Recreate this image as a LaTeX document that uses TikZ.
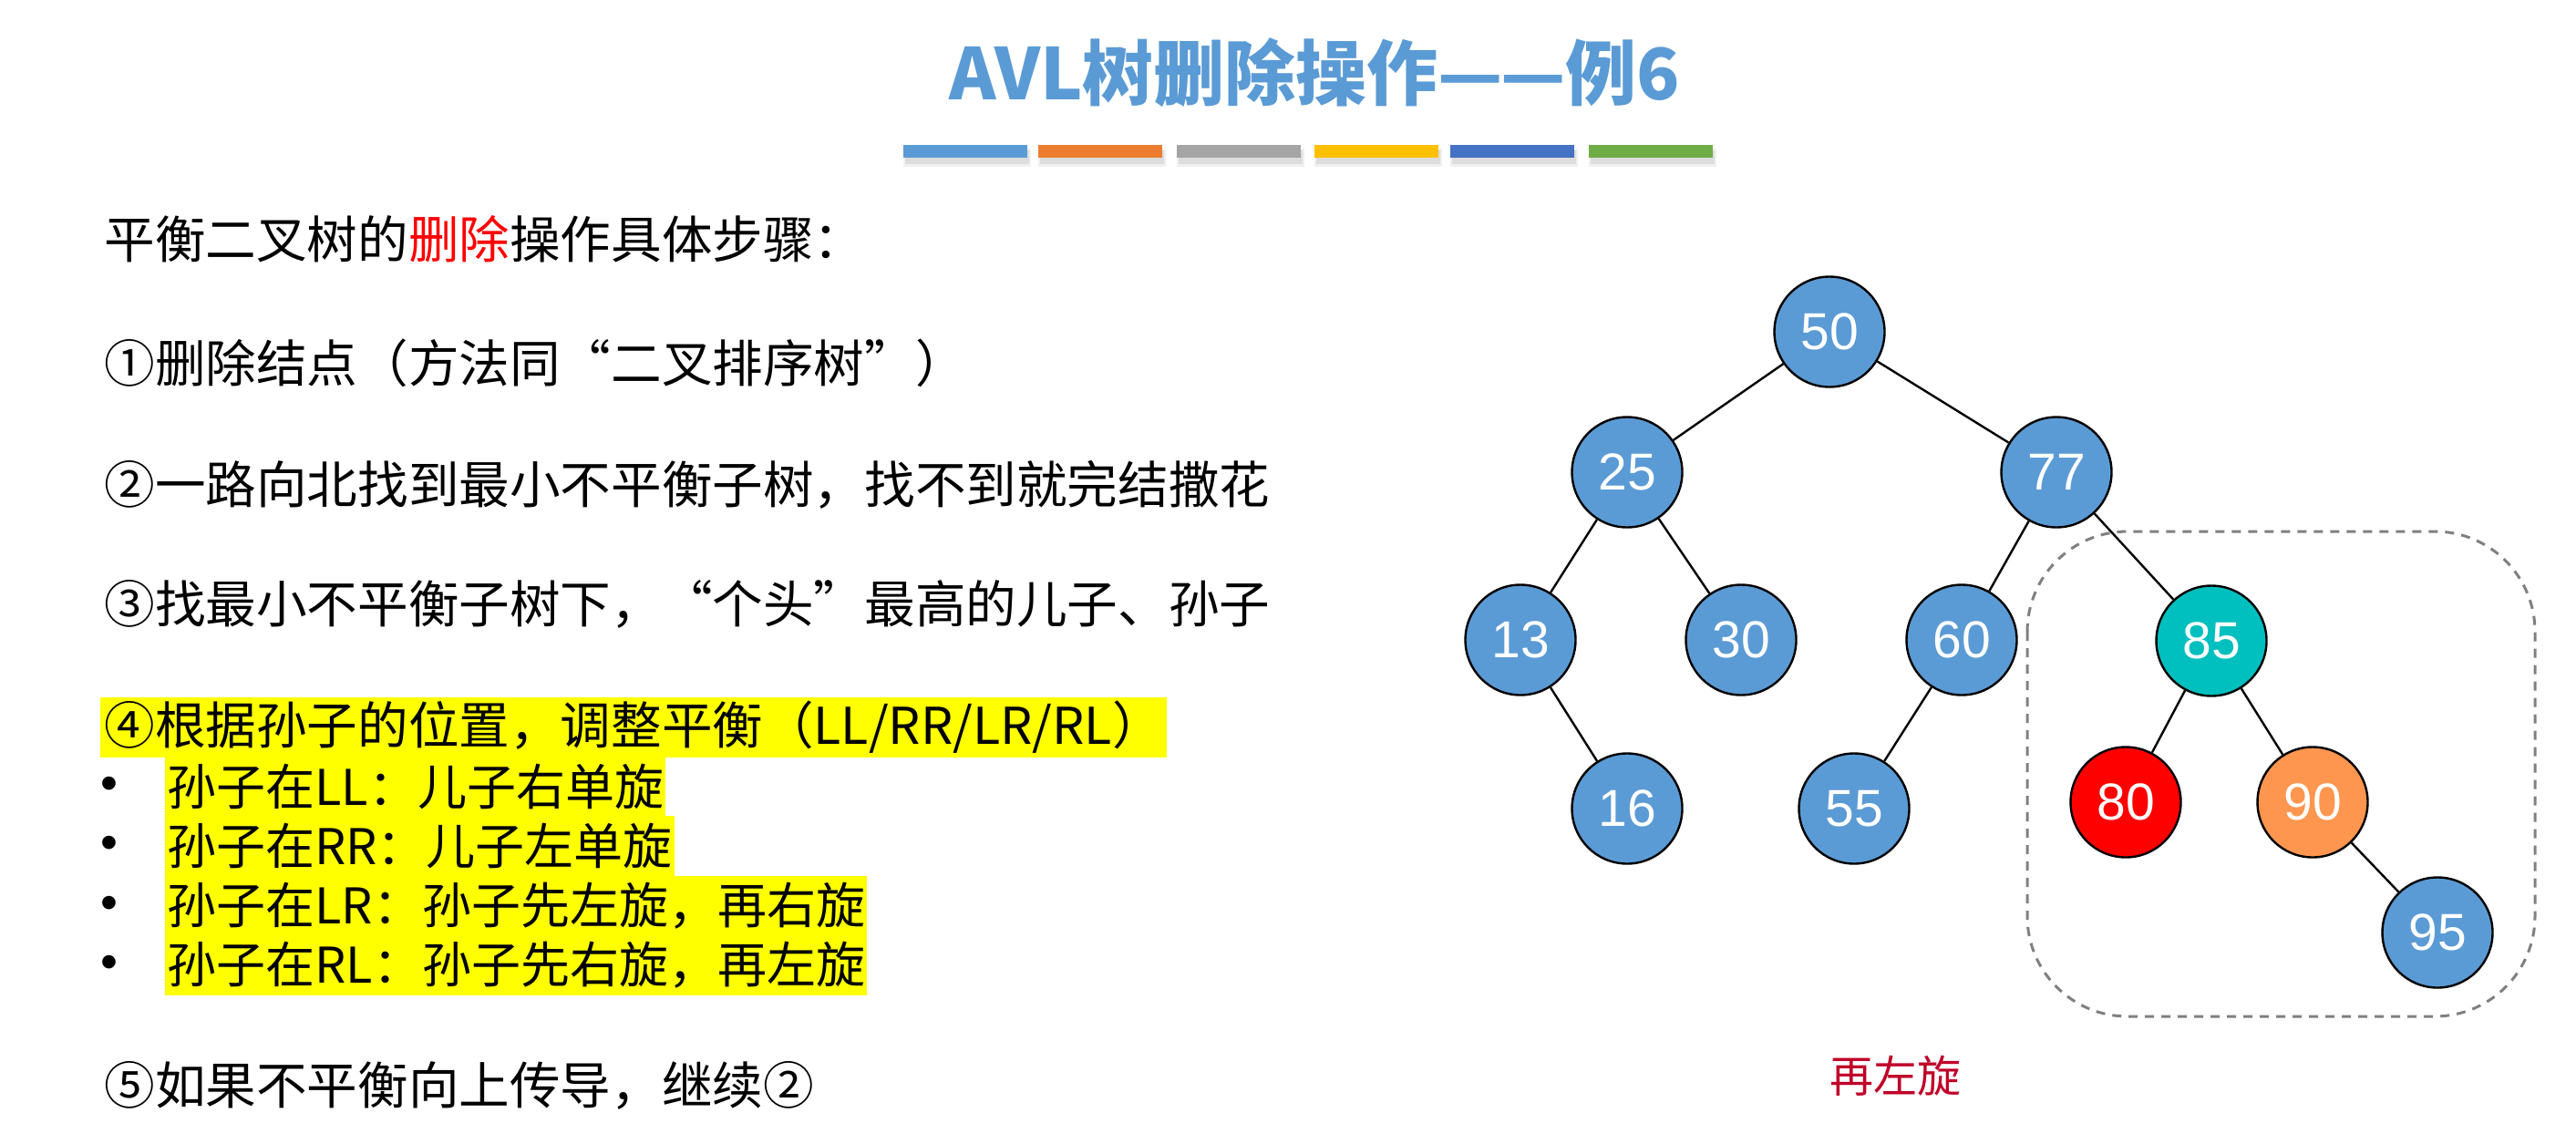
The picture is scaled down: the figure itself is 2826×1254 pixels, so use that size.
\documentclass[tikz,border=0pt]{standalone}
\usepackage{fontspec}
\setmainfont{Liberation Sans}
\newfontfamily\cjk{Noto Sans CJK SC}
\definecolor{tblue}{HTML}{5B9BD5}
\definecolor{borange}{HTML}{ED7D31}
\definecolor{bgray}{HTML}{A5A5A5}
\definecolor{bgold}{HTML}{FFC000}
\definecolor{bdblue}{HTML}{4472C4}
\definecolor{bgreen}{HTML}{70AD47}
\definecolor{nteal}{HTML}{00BFBF}
\definecolor{nred}{HTML}{FF0000}
\definecolor{norange}{HTML}{FF964F}
\definecolor{capred}{RGB}{192,0,40}
\definecolor{boxgray}{HTML}{808080}
\definecolor{hlyellow}{HTML}{FFFF00}
\tikzset{
  tnode/.style={circle, draw=black, line width=1.2pt, minimum size=60.5pt,
    inner sep=0pt, fill=tblue, text=white,
    font=\fontsize{28.5pt}{30pt}\selectfont},
  link/.style={line width=1.2pt, draw=black},
  body/.style={anchor=west, inner sep=0pt,
    font=\cjk\fontsize{27.8pt}{32pt}\selectfont},
  hl/.style={body, fill=hlyellow, minimum height=33pt, inner xsep=2pt},
  hlsub/.style={hl, font=\cjk\fontsize{27pt}{32pt}\selectfont, inner xsep=1pt},
  bul/.style={inner sep=0pt, font=\fontsize{27pt}{32pt}\selectfont}
}
\begin{document}
\begin{tikzpicture}[x=0.5pt,y=-0.5pt]
\useasboundingbox (0,0) rectangle (2826,1254);
\fill[white] (0,0) rectangle (2826,1254);

% title and coloured rule
\node[font=\cjk\bfseries\fontsize{39pt}{42pt}\selectfont, text=tblue] (title) at (1442,80) {AVL树删除操作—\kern-0.04em—例6};
\foreach \x/\c in {991/tblue,1139/borange,1291/bgray,1442/bgold,1591/bdblue,1743/bgreen} {
  \fill[black,opacity=0.06] (\x,163) rectangle (\x+140,183);
  \fill[black,opacity=0.08] (\x+2,165) rectangle (\x+138,180);
  \fill[\c] (\x,159) rectangle (\x+136,173);
}

% steps
\node[body] (s0) at (114,262) {平衡二叉树的\textcolor{red}{删除}操作具体步骤：};
\node[body] (s1) at (114,398) {①删除结点（方法同“二叉排序树”）};
\node[body] (s2) at (114,532) {②一路向北找到最小不平衡子树，找不到就完结撒花};
\node[body] (s3) at (114,663) {③找最小不平衡子树下，“个头”最高的儿子、孙子};
\node[hl] (s4) at (110,798) {④根据孙子的位置，调整平衡（LL/RR/LR/RL）};
\node[hlsub] (r1) at (181,863) {孙子在LL：儿子右单旋};
\node[hlsub] (r2) at (181,928) {孙子在RR：儿子左单旋};
\node[hlsub] (r3) at (181,994) {孙子在LR：孙子先左旋，再右旋};
\node[hlsub] (r4) at (181,1059) {孙子在RL：孙子先右旋，再左旋};
\node[bul] (d1) at (120,865) {•};
\node[bul] (d2) at (120,930) {•};
\node[bul] (d3) at (120,996) {•};
\node[bul] (d4) at (120,1061) {•};
\node[body] (s5) at (114,1191) {⑤如果不平衡向上传导，继续②};

% subtree being rotated
\draw[boxgray, line width=1.5pt, dash pattern=on 5pt off 4pt, rounded corners=55pt]
  (2224,583) rectangle (2781,1115);

% tree
\node[tnode] (n50) at (2007,364) {50};
\node[tnode] (n25) at (1785,518) {25};
\node[tnode] (n77) at (2256,518) {77};
\node[tnode] (n13) at (1668,702) {13};
\node[tnode] (n30) at (1910,702) {30};
\node[tnode] (n60) at (2152,702) {60};
\node[tnode, fill=nteal] (n85) at (2426,703) {85};
\node[tnode] (n16) at (1785,887) {16};
\node[tnode] (n55) at (2034,887) {55};
\node[tnode, fill=nred] (n80) at (2332,880) {80};
\node[tnode, fill=norange] (n90) at (2537,880) {90};
\node[tnode] (n95) at (2674,1023) {95};

\draw[link] (n50) -- (n25);
\draw[link] (n50) -- (n77);
\draw[link] (n25) -- (n13);
\draw[link] (n25) -- (n30);
\draw[link] (n13) -- (n16);
\draw[link] (n77) -- (n60);
\draw[link] (n77) -- (n85);
\draw[link] (n60) -- (n55);
\draw[link] (n85) -- (n80);
\draw[link] (n85) -- (n90);
\draw[link] (n90) -- (n95);

\node[font=\cjk\fontsize{24pt}{26pt}\selectfont, text=capred] (cap) at (2079,1180) {再左旋};
\end{tikzpicture}
\end{document}
